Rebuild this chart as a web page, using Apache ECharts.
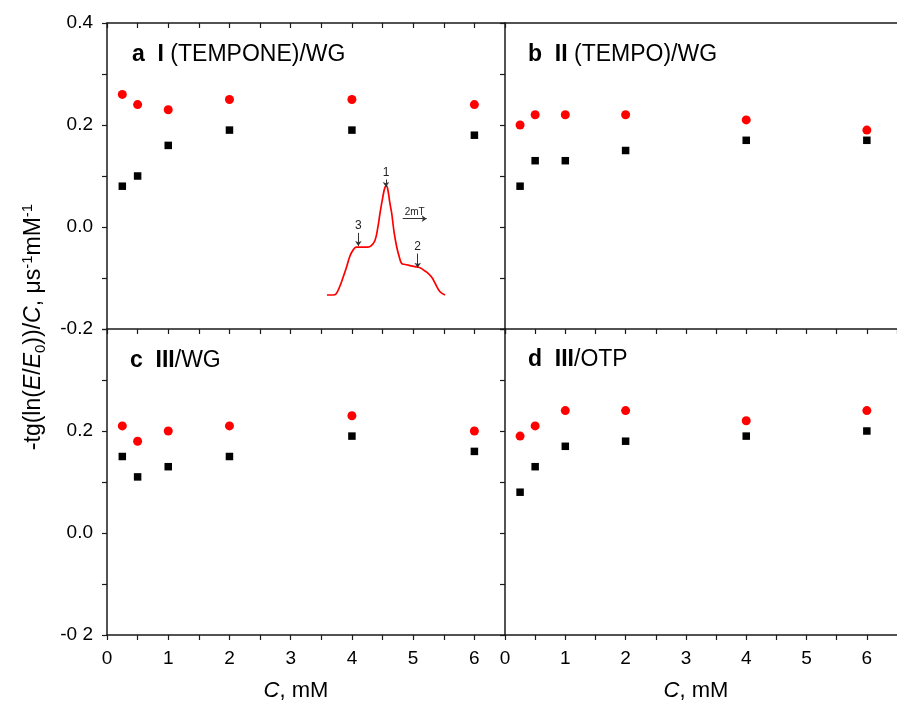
<!DOCTYPE html>
<html><head><meta charset="utf-8">
<script src="https://cdn.jsdelivr.net/npm/echarts@6/dist/echarts.min.js"></script>
<style>html,body{margin:0;padding:0;background:#fff}#c{width:897px;height:701px}</style>
</head><body><div id="c"></div>
<script>
// ---------- data ----------
const concentrations = [0.25, 0.5, 1, 2, 4, 6];
const panelARed   = [0.26, 0.24, 0.23, 0.25, 0.25, 0.24];
const panelABlack = [0.08, 0.10, 0.16, 0.19, 0.19, 0.18];
const panelBRed   = [0.20, 0.22, 0.22, 0.22, 0.21, 0.19];
const panelBBlack = [0.08, 0.13, 0.13, 0.15, 0.17, 0.17];
const panelCRed   = [0.21, 0.18, 0.20, 0.21, 0.23, 0.20];
const panelCBlack = [0.15, 0.11, 0.13, 0.15, 0.19, 0.16];
const panelDRed   = [0.19, 0.21, 0.24, 0.24, 0.22, 0.24];
const panelDBlack = [0.08, 0.13, 0.17, 0.18, 0.19, 0.20];

const xTickLabels = ['0', '1', '2', '3', '4', '5', '6'];
const yTickValues = [-0.2, 0, 0.2, 0.4];
const yTickLabelsTop = ['-0.2', '0.0', '0.2', '0.4'];
const yTickLabelsBottom = ['-0 2', '0.0', '0.2', ''];

// inset ESR spectrum (field in mT, relative intensity)
const insetField = [0, 0.5, 0.77, 1.1, 1.37, 1.68, 1.97, 2.22, 2.48, 2.65, 3.08, 3.5, 3.76, 4.1, 4.36, 4.53, 4.79, 4.96, 5.09, 5.21, 5.38, 5.53, 5.73, 5.96, 6.15, 6.38, 6.67, 7.09, 7.52, 7.95, 8.38, 8.63, 8.97, 9.23, 9.66, 10.09];
const insetIntensity = [0, 0, 0.01, 0.08, 0.16, 0.26, 0.36, 0.41, 0.44, 0.44, 0.44, 0.44, 0.45, 0.50, 0.63, 0.75, 0.91, 0.99, 1.0, 0.96, 0.84, 0.75, 0.58, 0.44, 0.36, 0.29, 0.28, 0.27, 0.26, 0.25, 0.22, 0.20, 0.16, 0.11, 0.03, 0];

// ---------- styling ----------
const FONT = '"Liberation Sans", Arial, sans-serif';
const LINE = '#1a1a1a';
const RED = '#ff0000';

const chart = echarts.init(document.getElementById('c'), null, {renderer: 'canvas'});

function zip(xs, ys) { return xs.map((x, i) => [x, ys[i]]); }
function xFmt(v) {
  const r = Math.round(v * 2) / 2;
  return Number.isInteger(r) && r >= 0 && r <= 6 ? xTickLabels[r] : '';
}
function yFmt(labels) {
  return function (v) {
    const i = yTickValues.findIndex(t => Math.abs(t - v) < 1e-6);
    return i >= 0 ? labels[i] : '';
  };
}

const grids = [
  {left: 107, top: 23, width: 398, height: 306},
  {left: 505, top: 23, width: 398, height: 306},
  {left: 107, top: 329, width: 398, height: 306},
  {left: 505, top: 329, width: 398, height: 306},
  {left: 327, top: 164.2, width: 117, height: 136.25}
];

function xAx(g, showLabels) {
  return {
    type: 'value', gridIndex: g, min: 0, max: 6.5, interval: 0.5, position: 'bottom',
    axisLine: {show: true, onZero: false, lineStyle: {color: LINE, width: 1.5}},
    axisTick: {show: true, inside: false, length: 5, lineStyle: {color: LINE, width: 1.2}},
    axisLabel: {show: showLabels, margin: 14, fontSize: 19, color: '#000', fontFamily: FONT, formatter: xFmt, showMaxLabel: false},
    splitLine: {show: false}
  };
}
function xTop(g, ticks) {
  return {
    type: 'value', gridIndex: g, min: 0, max: 6.5, interval: 0.5, position: 'top',
    axisLine: {show: true, onZero: false, lineStyle: {color: LINE, width: 1.5}},
    axisTick: {show: ticks, inside: true, length: 5, lineStyle: {color: LINE, width: 1.2}},
    axisLabel: {show: false}, splitLine: {show: false}
  };
}
function yAx(g, labels) {
  return {
    type: 'value', gridIndex: g, min: -0.2, max: 0.4, interval: 0.1, position: 'left',
    axisLine: {show: true, onZero: false, lineStyle: {color: LINE, width: 1.5}},
    axisTick: {show: true, inside: false, length: 5, lineStyle: {color: LINE, width: 1.2}},
    axisLabel: {show: !!labels, margin: 14, fontSize: 19, color: '#000', fontFamily: FONT, formatter: labels ? yFmt(labels) : null},
    splitLine: {show: false}
  };
}

function scat(g, data, kind) {
  return {
    type: 'scatter', xAxisIndex: g, yAxisIndex: g, data: zip(concentrations, data),
    symbol: kind === 'red' ? 'circle' : 'rect',
    symbolSize: kind === 'red' ? 9 : 7.5,
    itemStyle: {color: kind === 'red' ? RED : '#000', opacity: 1},
    silent: true, animation: false, z: 3
  };
}

const arrowLine = (b, i0, i1, txt) => [
  {coord: [b, i0], label: {show: true, formatter: txt, position: 'start', distance: 1, fontSize: 12, color: '#222', fontFamily: FONT}},
  {coord: [b, i1]}
];

const option = {
  backgroundColor: '#fff',
  animation: false,
  grid: grids,
  xAxis: [
    xAx(0, false), xAx(1, false), xAx(2, true), xAx(3, true),
    xTop(0, true), xTop(1, false),
    {type: 'value', gridIndex: 4, min: 0, max: 10, show: false}
  ],
  yAxis: [
    yAx(0, yTickLabelsTop), yAx(1, null), yAx(2, yTickLabelsBottom), yAx(3, null),
    {type: 'value', gridIndex: 4, min: -0.05, max: 1.2, show: false}
  ],
  series: [
    scat(0, panelABlack, 'black'), scat(0, panelARed, 'red'),
    scat(1, panelBBlack, 'black'), scat(1, panelBRed, 'red'),
    scat(2, panelCBlack, 'black'), scat(2, panelCRed, 'red'),
    scat(3, panelDBlack, 'black'), scat(3, panelDRed, 'red'),
    {
      type: 'line', xAxisIndex: 6, yAxisIndex: 4, data: zip(insetField, insetIntensity),
      showSymbol: false, smooth: 0.4, clip: false, silent: true,
      lineStyle: {color: RED, width: 1.7},
      markLine: {
        silent: true, animation: false, symbol: ['none', 'arrow'], symbolSize: 5,
        lineStyle: {color: '#333', width: 1, type: 'solid'},
        label: {show: false},
        data: [
          arrowLine(5.04, 1.06, 0.99, '1'),
          arrowLine(2.68, 0.57, 0.45, '3'),
          arrowLine(7.75, 0.38, 0.25, '2'),
          [
            {coord: [6.47, 0.70], label: {show: true, formatter: '2mT', position: 'insideMiddleTop', distance: 1, fontSize: 10, color: '#222', fontFamily: FONT}},
            {coord: [8.52, 0.70]}
          ]
        ]
      }
    }
  ],
  graphic: [
    {
      type: 'text', x: 34, y: 327, rotation: Math.PI / 2, silent: true,
      style: {
        text: '-tg(ln({i|E}/{i|E}{sub|0}))/{i|C}, μs{sup|-1}mM{sup|-1}',
        fontSize: 23, fontFamily: FONT, fill: '#000', align: 'center', verticalAlign: 'middle',
        lineHeight: 28,
        rich: {
          i: {fontStyle: 'italic', fontSize: 23, fontFamily: FONT, fill: '#000', lineHeight: 28},
          sub: {fontSize: 15, fontFamily: FONT, fill: '#000', verticalAlign: 'bottom', lineHeight: 15},
          sup: {fontSize: 15, fontFamily: FONT, fill: '#000', verticalAlign: 'top', lineHeight: 15}
        }
      }
    },
    {
      type: 'text', x: 296, y: 691, silent: true,
      style: {text: '{i|C}, mM', fontSize: 22, fontFamily: FONT, fill: '#000', align: 'center', verticalAlign: 'middle',
        rich: {i: {fontStyle: 'italic', fontSize: 22, fontFamily: FONT, fill: '#000'}}}
    },
    {
      type: 'text', x: 696, y: 691, silent: true,
      style: {text: '{i|C}, mM', fontSize: 22, fontFamily: FONT, fill: '#000', align: 'center', verticalAlign: 'middle',
        rich: {i: {fontStyle: 'italic', fontSize: 22, fontFamily: FONT, fill: '#000'}}}
    },
    {
      type: 'text', x: 132, y: 55, silent: true,
      style: {text: '{b|a}  {b|I} (TEMPONE)/WG', fontSize: 23, fontFamily: FONT, fill: '#000', align: 'left', verticalAlign: 'middle',
        rich: {b: {fontWeight: 'bold', fontSize: 23, fontFamily: FONT, fill: '#000'}}}
    },
    {
      type: 'text', x: 528, y: 55, silent: true,
      style: {text: '{b|b}  {b|II} (TEMPO)/WG', fontSize: 23, fontFamily: FONT, fill: '#000', align: 'left', verticalAlign: 'middle',
        rich: {b: {fontWeight: 'bold', fontSize: 23, fontFamily: FONT, fill: '#000'}}}
    },
    {
      type: 'text', x: 130, y: 361, silent: true,
      style: {text: '{b|c}  {b|III}/WG', fontSize: 23, fontFamily: FONT, fill: '#000', align: 'left', verticalAlign: 'middle',
        rich: {b: {fontWeight: 'bold', fontSize: 23, fontFamily: FONT, fill: '#000'}}}
    },
    {
      type: 'text', x: 528, y: 360, silent: true,
      style: {text: '{b|d}  {b|III}/OTP', fontSize: 23, fontFamily: FONT, fill: '#000', align: 'left', verticalAlign: 'middle',
        rich: {b: {fontWeight: 'bold', fontSize: 23, fontFamily: FONT, fill: '#000'}}}
    }
  ]
};
chart.setOption(option);
</script>
</body></html>
